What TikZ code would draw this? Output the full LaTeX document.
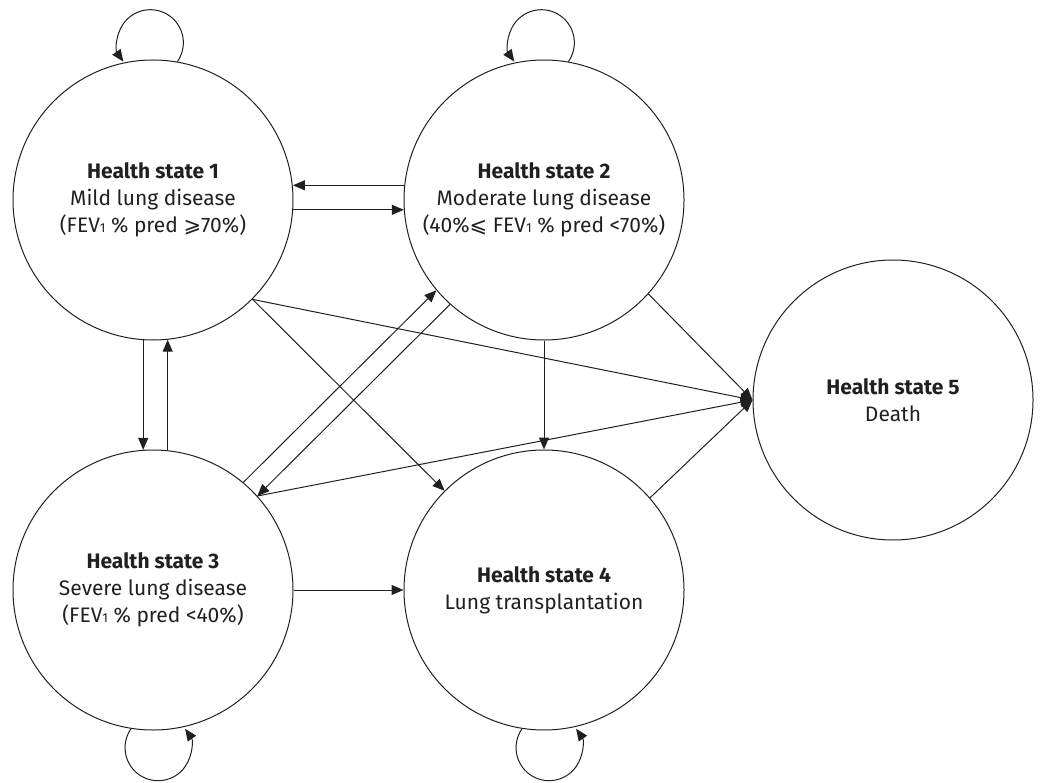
\documentclass[tikz,border=0pt]{standalone}
\usepackage{fontspec}
\setmainfont{Fira Sans}
\newfontfamily\symfnt{DejaVu Sans}
\usetikzlibrary{arrows.meta}
\definecolor{ink}{HTML}{231F20}
\newcommand\subone{{\fontsize{13}{13}\selectfont 1}}
\begin{document}
\begin{tikzpicture}[x=1pt,y=-1pt,
  state/.style={circle,draw=ink,line width=1pt,minimum size=280pt,inner sep=0pt,
    align=center,font=\fontsize{21}{27}\selectfont,text=ink},
  arr/.style={draw=ink,line width=1pt,-{Triangle[length=12pt,width=10pt]}}]
\useasboundingbox (0,0) rectangle (1043,783);
\node[state] (C1) at (153,200) {\textbf{Health state 1}\\Mild lung disease\\(FEV\subone{} \% pred {\symfnt ⩾}70\%)};
\node[state] (C2) at (544,200) {\textbf{Health state 2}\\Moderate lung disease\\(40\%{\symfnt ⩽} FEV\subone{} \% pred <70\%)};
\node[state] (C3) at (153,590) {\textbf{Health state 3}\\Severe lung disease\\(FEV\subone{} \% pred <40\%)};
\node[state] (C4) at (544,590) {\textbf{Health state 4}\\Lung transplantation};
\node[state] (C5) at (893,400) {\textbf{Health state 5}\\Death};
% horizontal pair 1-2
\draw[arr] (C2.174.7) -- (C2.174.7 -| C1.5.3);
\draw[arr] (C1.-4.1) -- (C1.-4.1 -| C2.184.1);
% vertical pair 1-3
\draw[arr] (C1.-94.5) -- (C3.94.5);
\draw[arr] (C3.84.3) -- (C1.-84.3);
% diagonals
\draw[arr] (C1) -- (C4);
\draw[arr] (C1.-45) -- (C5.180);
\draw[arr] (C2.-42) -- (C5.180);
\draw[arr] (C4.41) -- (C5.180);
\draw[arr] (C3.42) -- (C5.180);
\draw[arr] (C3.50) -- (C2.220);
\draw[arr] (C2.228) -- (C3.42);
\draw[arr] (C3) -- (C4);
\draw[arr] (C2) -- (C4);
% self loops
\draw[arr] (C1.80) arc[start angle=-35,end angle=215,radius=33pt];
\draw[arr] (C2.80) arc[start angle=-35,end angle=215,radius=33pt];
\draw[arr] (C3.-99) arc[start angle=145,end angle=395,radius=33pt];
\draw[arr] (C4.-99) arc[start angle=145,end angle=395,radius=33pt];
\end{tikzpicture}
\end{document}
